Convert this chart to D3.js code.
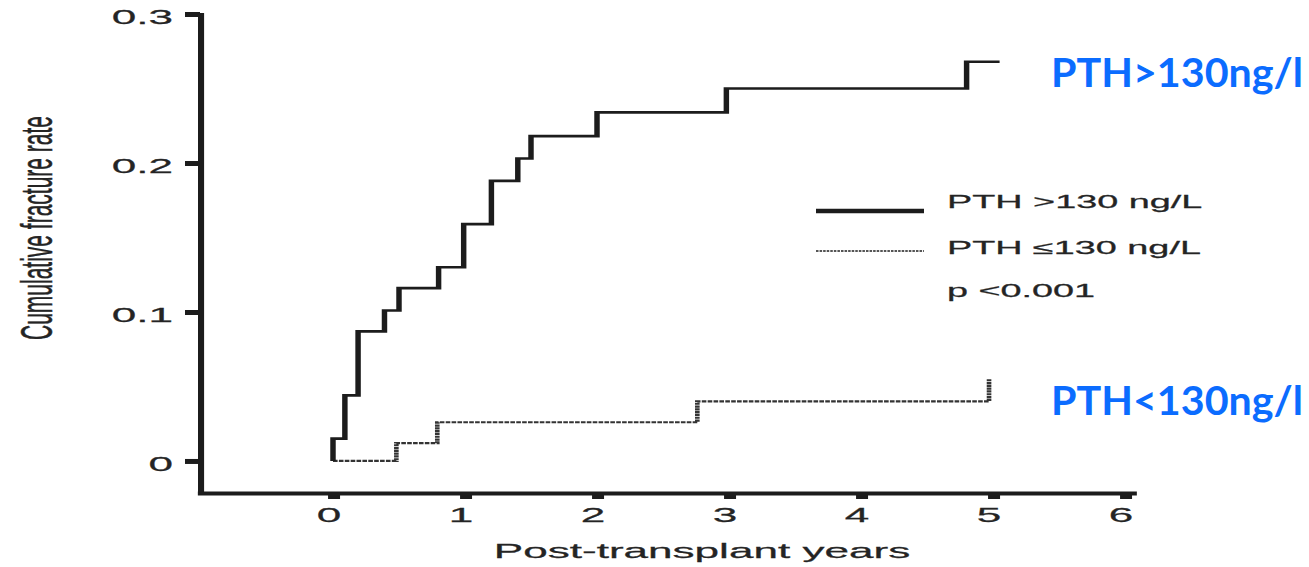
<!DOCTYPE html>
<html>
<head>
<meta charset="utf-8">
<script src="https://cdn.jsdelivr.net/npm/d3@7"></script>
<style>
  html, body { margin: 0; padding: 0; background: #fff; }
  svg { display: block; }
</style>
</head>
<body>
<script>
// Cumulative fracture rate after transplant, split by PTH group (step curves)
const highTimes = [0, 0.09, 0.19, 0.39, 0.50, 0.80, 0.99, 1.20, 1.40, 1.50, 2.00, 2.98, 4.80];
const highRates = [0.015, 0.044, 0.087, 0.101, 0.116, 0.130, 0.159, 0.188, 0.203, 0.218, 0.234, 0.250, 0.268];
const highEnd = 5.05;

const lowTimes = [0, 0.48, 0.79, 2.76, 4.97];
const lowRates = [0, 0.012, 0.026, 0.040, 0.055];

const xTicks = [0, 1, 2, 3, 4, 5, 6];
const xTickLabels = ["0", "1", "2", "3", "4", "5", "6"];
const yTicks = [0, 0.1, 0.2, 0.3];
const yTickLabels = ["0", "0.1", "0.2", "0.3"];
const legendLabels = ["PTH >130 ng/L", "PTH \u2264130 ng/L"];
const pValueLabel = "p <0.001";
const groupLabels = ["PTH>130ng/l", "PTH<130ng/l"];
const xTitle = "Post-transplant years";
const yTitle = "Cumulative fracture rate";

const W = 1309, H = 567;
const S = 2.1;              // horizontal stretch of the plotted figure
const FONT = "'Liberation Sans', Arial, Helvetica, sans-serif";
const INK = "#1c1c1c";
const TEXT = "#242424";

const svg = d3.select("body").append("svg")
  .attr("width", W).attr("height", H)
  .attr("viewBox", `0 0 ${W} ${H}`);

// The figure is laid out in unstretched units and widened by S
const fig = svg.append("g").attr("transform", `scale(${S},1)`);

const x = d3.scaleLinear().domain([-1, 6.05]).range([201 / S, 1131.6 / S]);
const y = d3.scaleLinear().domain([-0.0215, 0.3]).range([493, 14]);

function styleText(sel, size) {
  sel.attr("fill", TEXT).attr("font-family", FONT).attr("font-size", size)
    .attr("stroke", TEXT).attr("stroke-width", 0.25);
  return sel;
}

// Y axis
const yAxis = fig.append("g")
  .attr("transform", `translate(${200 / S},0)`)
  .call(d3.axisLeft(y).tickValues(yTicks)
    .tickFormat((d, i) => yTickLabels[i])
    .tickSize(15 / S).tickSizeOuter(0));
yAxis.select(".domain").attr("stroke", INK).attr("stroke-width", 2.9).attr("stroke-linecap", "square");
yAxis.selectAll(".tick line").attr("stroke", INK).attr("stroke-width", 5);
styleText(yAxis.selectAll(".tick text")
  .attr("x", -27 / S).attr("dy", "0.32em").attr("y", 3), 21);

// X axis
const xAxis = fig.append("g")
  .attr("transform", `translate(0,${y(y.domain()[0])})`)
  .call(d3.axisBottom(x).tickValues(xTicks)
    .tickFormat((d, i) => xTickLabels[i])
    .tickSize(6).tickSizeOuter(0));
xAxis.select(".domain").attr("stroke", INK).attr("stroke-width", 4).attr("stroke-linecap", "square");
xAxis.selectAll(".tick line").attr("stroke", INK).attr("stroke-width", 12 / S);
styleText(xAxis.selectAll(".tick text")
  .attr("x", -5 / S).attr("y", 29).attr("dy", 0), 21);

// Axis titles
styleText(fig.append("text")
  .attr("x", 702 / S).attr("y", 558)
  .attr("text-anchor", "middle"), 21)
  .text(xTitle);

styleText(fig.append("text")
  .attr("transform", `translate(${36 / S},228) rotate(-90)`)
  .attr("text-anchor", "middle").attr("dy", "0.36em"), 21)
  .text(yTitle);

// Step curves
const step = d3.line().x(d => x(d[0])).y(d => y(d[1])).curve(d3.curveStepAfter);

const highPts = [[0, 0]].concat(highTimes.map((t, i) => [t, highRates[i]]));
highPts.push([highEnd, highRates[highRates.length - 1]]);
const lowPts = lowTimes.map((t, i) => [t, lowRates[i]]);

fig.append("path")
  .attr("d", step(lowPts))
  .attr("fill", "none").attr("stroke", "#333")
  .attr("stroke-width", 2.2).attr("stroke-dasharray", "2.2 0.6");

fig.append("path")
  .attr("d", step(highPts))
  .attr("fill", "none").attr("stroke", INK)
  .attr("stroke-width", 2.6).attr("stroke-linejoin", "miter");

// Legend
const legend = fig.append("g");
legend.append("line")
  .attr("x1", 816 / S).attr("x2", 924 / S).attr("y1", 211).attr("y2", 211)
  .attr("stroke", INK).attr("stroke-width", 4.5);
legend.append("line")
  .attr("x1", 816 / S).attr("x2", 924 / S).attr("y1", 251).attr("y2", 251)
  .attr("stroke", "#555").attr("stroke-width", 1.8).attr("stroke-dasharray", "1.2 0.5");
styleText(legend.selectAll("text.lg").data(legendLabels).join("text")
  .attr("class", "lg")
  .attr("x", 947 / S).attr("y", (d, i) => [208, 254][i]), 18)
  .text(d => d);
styleText(legend.append("text")
  .attr("x", 947 / S).attr("y", 297), 18)
  .text(pValueLabel);

// Group call-outs
svg.selectAll("text.callout").data(groupLabels).join("text")
  .attr("class", "callout")
  .attr("x", 1051).attr("y", (d, i) => [87, 415][i])
  .attr("fill", "#0b6cff")
  .attr("font-family", "Lato, 'Open Sans', sans-serif")
  .attr("font-weight", 700).attr("font-size", 40)
  .attr("textLength", 252).attr("lengthAdjust", "spacingAndGlyphs")
  .text(d => d);
</script>
</body>
</html>
